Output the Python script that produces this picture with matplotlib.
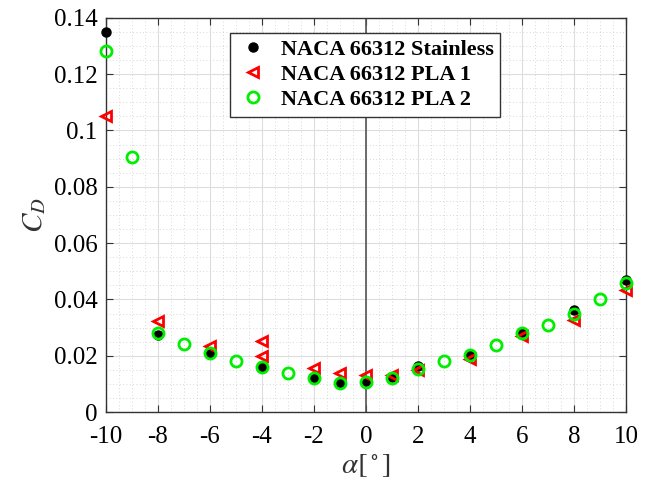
import numpy as np
import matplotlib.pyplot as plt
from matplotlib.ticker import MultipleLocator

# Data
alpha_st = [-10, -8, -6, -4, -2, -1, 0, 1, 2, 4, 6, 8, 10]
cd_st = [0.135, 0.0275, 0.0208, 0.016, 0.012, 0.0103, 0.011, 0.0125, 0.0165, 0.0202, 0.0283, 0.0364, 0.047]

alpha_p1 = [-10, -8, -6, -4, -4, -2, -1, 0, 1, 2, 4, 6, 8, 10]
cd_p1 = [0.105, 0.0323, 0.0236, 0.0254, 0.0199, 0.0155, 0.014, 0.0131, 0.0132, 0.015, 0.0188, 0.0272, 0.0328, 0.0435]

alpha_p2 = list(range(-10, 11))
cd_p2 = [0.1283, 0.0905, 0.028, 0.0242, 0.021, 0.0182, 0.016, 0.014, 0.012, 0.0102,
         0.0108, 0.0122, 0.0152, 0.018, 0.0203, 0.024, 0.0282, 0.031, 0.035, 0.0402, 0.0458]

labels = ["NACA 66312 Stainless", "NACA 66312 PLA 1", "NACA 66312 PLA 2"]

plt.rcParams['font.family'] = ['Liberation Serif', 'DejaVu Serif']
plt.rcParams['mathtext.fontset'] = 'stix'
plt.rcParams['axes.unicode_minus'] = False

fig = plt.figure(figsize=(6.46, 4.82), dpi=100)
ax = fig.add_axes([0.164, 0.145, 0.805, 0.818])

ax.axvline(0, color='#555555', lw=1.2, zorder=1)

# точки поза межами осей не обрізаються
ax.plot(alpha_st, cd_st, 'o', color='black', ms=6.5, label=labels[0], zorder=3, clip_on=False)
ax.plot(alpha_p1, cd_p1, '<', mfc='none', mec='red', mew=2, ms=7.5, label=labels[1], zorder=4, clip_on=False)
ax.plot(alpha_p2, cd_p2, 'o', mfc='none', mec='#00ee00', mew=2, ms=8, label=labels[2], zorder=5, clip_on=False)

ax.set_xlim(-10, 10)
ax.set_ylim(0, 0.14)
ax.set_xticks(np.arange(-10, 11, 2))
ax.set_yticks(np.arange(0, 0.141, 0.02))
ax.set_yticklabels(['0', '0.02', '0.04', '0.06', '0.08', '0.1', '0.12', '0.14'])
ax.xaxis.set_minor_locator(MultipleLocator(0.5))
ax.yaxis.set_minor_locator(MultipleLocator(0.005))
ax.grid(which='major', color='#dddddd', lw=0.8)
ax.grid(which='minor', color='#cccccc', lw=0.6, ls=(0, (1, 3)))
ax.set_axisbelow(True)
ax.tick_params(which='both', direction='in', top=True, right=True, labelsize=18, color='#333333')
ax.tick_params(which='minor', length=0)
ax.tick_params(axis='y', which='major', length=5, pad=6)
ax.tick_params(axis='x', which='major', length=5, pad=10)
for s in ax.spines.values():
    s.set_color('#333333')
    s.set_linewidth(1)

ax.set_xlabel(r'$\alpha[^\circ]$', fontsize=21, color='#333333', labelpad=3)
ax.set_ylabel(r'$C_D$', fontsize=21, color='#333333', labelpad=4)

leg = ax.legend(loc='upper left', bbox_to_anchor=(0.238, 0.962), borderaxespad=0,
                fancybox=False, edgecolor='#333333', framealpha=1, handletextpad=0.5,
                borderpad=0.3, labelspacing=0.2, handlelength=1.5,
                prop={'weight': 'bold', 'size': 16})
leg.get_frame().set_linewidth(1)

fig.savefig('out.png', dpi=100)
